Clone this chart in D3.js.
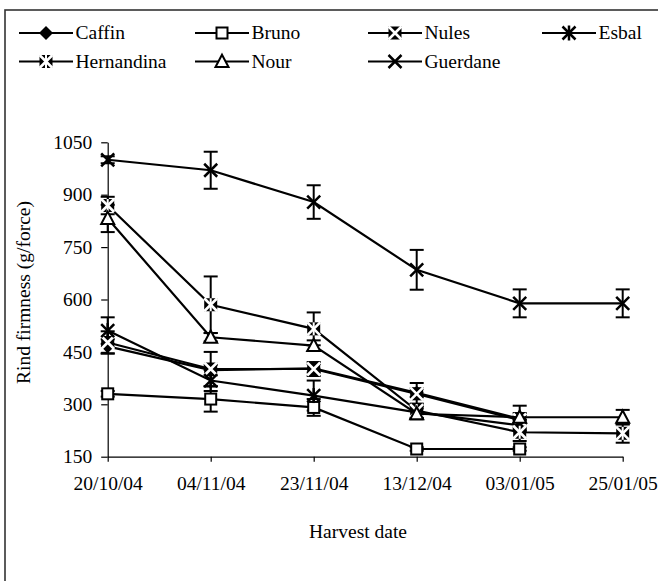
<!DOCTYPE html>
<html>
<head>
<meta charset="utf-8">
<script src="https://cdn.jsdelivr.net/npm/d3@7"></script>
<style>
    body { margin: 0; background: #fff; }
    svg { display: block; }
    text { font-family: "Liberation Serif", "Times New Roman", serif; fill: #000; }
</style>
</head>
<body>
<svg id="chart" width="658" height="581"></svg>
<script>
// ---- Dados
const dates = ['20/10/04', '04/11/04', '23/11/04', '13/12/04', '03/01/05', '25/01/05'];
const yTicks = [150, 300, 450, 600, 750, 900, 1050];

const caffin = [466, 398, 403, 333, 258, null];
const caffinErr = [20, 15, 12, 12, 10, null];
const bruno = [330, 315, 291, 172, 172, null];
const brunoErr = [8, 36, 24, 5, 5, null];
const nules = [477, 401, 401, 330, 255, null];
const nulesErr = [32, 49, 20, 31, 20, null];
const esbal = [511, 368, 325, 277, 240, null];
const esbalErr = [38, 30, 43, 20, 15, null];
const hernandina = [869, 585, 516, 282, 220, 217];
const hernandinaErr = [25, 81, 47, 20, 25, 27];
const nour = [832, 492, 468, 273, 263, 263];
const nourErr = [39, 12, 15, 15, 33, 21];
const guerdane = [1000, 970, 879, 685, 589, 589];
const guerdaneErr = [10, 53, 48, 57, 40, 40];

const series = [
    { name: 'Caffin', values: caffin, err: caffinErr, marker: 'diamond' },
    { name: 'Bruno', values: bruno, err: brunoErr, marker: 'square' },
    { name: 'Nules', values: nules, err: nulesErr, marker: 'nules' },
    { name: 'Esbal', values: esbal, err: esbalErr, marker: 'asterisk' },
    { name: 'Hernandina', values: hernandina, err: hernandinaErr, marker: 'hernandina' },
    { name: 'Nour', values: nour, err: nourErr, marker: 'triangle' },
    { name: 'Guerdane', values: guerdane, err: guerdaneErr, marker: 'cross' }
];

const svg = d3.select('#chart');
const FONT = '19.5px';
const SERIF = '"Liberation Serif", "Times New Roman", serif';

// ---- Moldura
svg.append('rect')
    .attr('x', 5).attr('y', 10)
    .attr('width', 720).attr('height', 700)
    .attr('fill', 'none').attr('stroke', '#333').attr('stroke-width', 1.6);

// ---- Escalas
const x = d3.scalePoint().domain(dates).range([107.7, 622.7]);
const y = d3.scaleLinear().domain([150, 1050]).range([456.7, 142.3]);

function drawMarker(g, type, cx, cy) {
    const m = g.append('g').attr('transform', `translate(${cx},${cy})`);
    const s = 6.5;
    if (type === 'diamond') {
        m.append('path').attr('d', `M0,${-s - 0.5}L${s + 0.5},0L0,${s + 0.5}L${-s - 0.5},0Z`).attr('fill', '#000');
    } else if (type === 'square') {
        m.append('rect').attr('x', -5.5).attr('y', -5.5).attr('width', 11).attr('height', 11)
            .attr('fill', '#fff').attr('stroke', '#000').attr('stroke-width', 2);
    } else if (type === 'triangle') {
        m.append('path').attr('d', `M0,-6.8L6.5,5.5L-6.5,5.5Z`)
            .attr('fill', '#fff').attr('stroke', '#000').attr('stroke-width', 2);
    } else if (type === 'cross' || type === 'asterisk') {
        m.append('path').attr('d', `M${-s},${-s}L${s},${s}M${-s},${s}L${s},${-s}`)
            .attr('stroke', '#000').attr('stroke-width', 2.5);
        if (type === 'asterisk') {
            m.append('path').attr('d', `M0,${-s - 1}V${s + 1}`).attr('stroke', '#000').attr('stroke-width', 2.5);
        }
    } else if (type === 'nules' || type === 'hernandina') {
        m.append('rect').attr('x', -s).attr('y', -s).attr('width', 2 * s).attr('height', 2 * s).attr('fill', '#000');
        m.append('path').attr('d', `M${-s},${-s}L${s},${s}M${-s},${s}L${s},${-s}`)
            .attr('stroke', '#fff').attr('stroke-width', 2.6);
        if (type === 'hernandina') {
            m.append('path').attr('d', `M0,${-s}V${s}`).attr('stroke', '#fff').attr('stroke-width', 2);
        }
    }
}

// ---- Eixos
svg.append('g')
    .attr('transform', `translate(${x.range()[0]},0)`)
    .call(d3.axisLeft(y).tickValues(yTicks).tickFormat(d => String(d))
        .tickSize(6.5).tickSizeOuter(0).tickPadding(9))
    .call(g => g.selectAll('path,line').attr('stroke', '#000').attr('stroke-width', 1.2))
    .call(g => g.selectAll('text').attr('font-size', FONT).attr('font-family', SERIF));

svg.append('g')
    .attr('transform', `translate(0,${y(150)})`)
    .call(d3.axisBottom(x).tickSize(5).tickSizeOuter(0).tickPadding(14))
    .call(g => g.selectAll('path,line').attr('stroke', '#000').attr('stroke-width', 1.2))
    .call(g => g.selectAll('text').attr('font-size', FONT).attr('font-family', SERIF));

svg.append('text')
    .attr('transform', `translate(23.5,292.5) rotate(-90)`)
    .attr('text-anchor', 'middle').attr('dy', '0.33em')
    .attr('font-size', FONT).attr('font-family', SERIF)
    .text('Rind firmness (g/force)');

svg.append('text')
    .attr('x', 358).attr('y', 531.7)
    .attr('text-anchor', 'middle').attr('dy', '0.33em')
    .attr('font-size', FONT).attr('font-family', SERIF)
    .text('Harvest date');

// ---- Barras de erro
const plot = svg.append('g');
series.forEach(s => {
    const pts = dates.map((d, i) => ({ d, v: s.values[i], e: s.err[i] })).filter(p => p.v != null);
    const eb = plot.append('g').attr('stroke', '#000').attr('stroke-width', 2);
    pts.forEach(p => {
        const cx = x(p.d);
        eb.append('line').attr('x1', cx).attr('x2', cx).attr('y1', y(p.v - p.e)).attr('y2', y(p.v + p.e));
        eb.append('line').attr('x1', cx - 7).attr('x2', cx + 7).attr('y1', y(p.v + p.e)).attr('y2', y(p.v + p.e));
        eb.append('line').attr('x1', cx - 7).attr('x2', cx + 7).attr('y1', y(p.v - p.e)).attr('y2', y(p.v - p.e));
    });
});

// ---- Linhas e marcadores
const line = d3.line().defined(d => d.v != null).x(d => x(d.d)).y(d => y(d.v));
series.forEach(s => {
    const pts = dates.map((d, i) => ({ d, v: s.values[i] }));
    plot.append('path')
        .attr('d', line(pts))
        .attr('fill', 'none').attr('stroke', '#000').attr('stroke-width', 2.2);
    const mg = plot.append('g');
    pts.filter(p => p.v != null).forEach(p => drawMarker(mg, s.marker, x(p.d), y(p.v)));
});

// ---- Legenda
const legendCols = [19, 195, 368, 542];
const legendRows = [33, 61.5];
const legend = svg.append('g');
series.forEach((s, i) => {
    const col = i < 4 ? i : i - 4;
    const row = i < 4 ? 0 : 1;
    const lx = legendCols[col];
    const ly = legendRows[row];
    legend.append('line')
        .attr('x1', lx).attr('x2', lx + 54).attr('y1', ly).attr('y2', ly)
        .attr('stroke', '#000').attr('stroke-width', 2.2);
    drawMarker(legend, s.marker, lx + 27, ly);
    legend.append('text')
        .attr('x', lx + 56.5).attr('y', ly).attr('dy', '0.33em')
        .attr('font-size', FONT).attr('font-family', SERIF)
        .text(s.name);
});
</script>
</body>
</html>
